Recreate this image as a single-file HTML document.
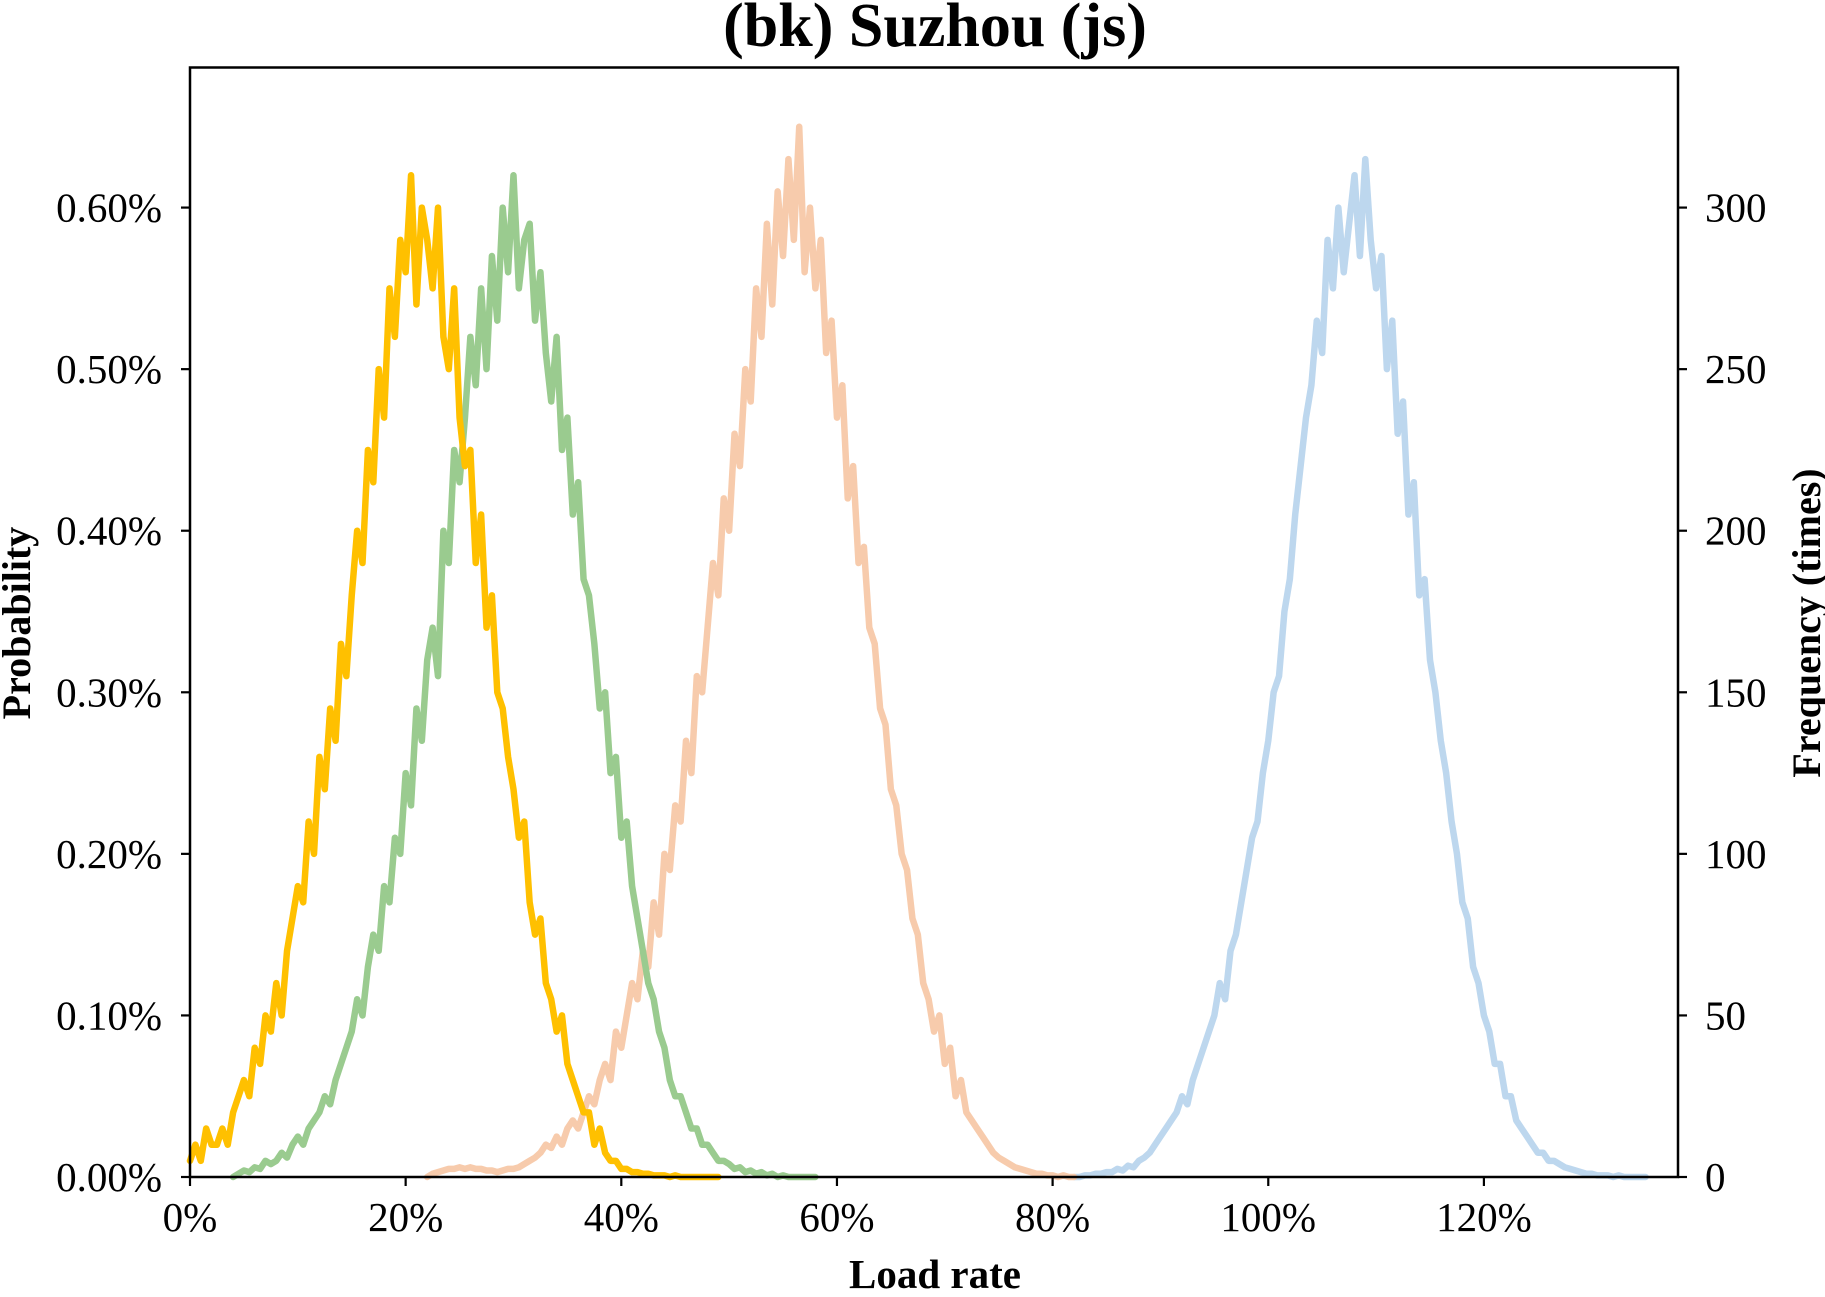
<!DOCTYPE html>
<html><head><meta charset="utf-8">
<style>
html,body{margin:0;padding:0;background:#fff;}
svg{display:block;font-family:"Liberation Serif",serif;}
</style></head>
<body>
<svg id="chart" width="1825" height="1297" viewBox="0 0 1825 1297" xmlns="http://www.w3.org/2000/svg">
<text x="935" y="46" text-anchor="middle" font-size="62" font-weight="bold">(bk) Suzhou (js)</text>
<g id="series"></g>
<g id="axes"></g>
<text x="935" y="1288" text-anchor="middle" font-size="41" font-weight="bold">Load rate</text>
<text transform="translate(30,623) rotate(-90)" text-anchor="middle" font-size="40" font-weight="bold">Probability</text>
<text transform="translate(1820,623) rotate(-90)" text-anchor="middle" font-size="40" font-weight="bold">Frequency (times)</text>
</svg>
<script>
const xTicks = [0, 20, 40, 60, 80, 100, 120];
const xTickLabels = ["0%", "20%", "40%", "60%", "80%", "100%", "120%"];
const yTicks = [0, 0.1, 0.2, 0.3, 0.4, 0.5, 0.6];
const yTickLabels = ["0.00%", "0.10%", "0.20%", "0.30%", "0.40%", "0.50%", "0.60%"];
const rightTickLabels = ["0", "50", "100", "150", "200", "250", "300"];
const step = 0.5;
const yellowStart = 0;
const yellowValues = [.01,.02,.01,.03,.02,.02,.03,.02, .04,.05,.06,.05,.08,.07,.10,.09, .12,.10,.14,.16,.18,.17,.22,.20, .26,.24,.29,.27,.33,.31,.36,.40, .38,.45,.43,.50,.47,.55,.52,.58, .56,.62,.54,.60,.58,.55,.60,.52, .50,.55,.47,.44,.45,.38,.41,.34, .36,.30,.29,.26,.24,.21,.22,.17, .15,.16,.12,.11,.09,.10,.07,.06, .05,.04,.04,.02,.03,.015,.01,.01, .005,.005,.003,.003,.002,.002,.001,.001, .001,0,.001,0,0,0,0,0,0,0,0];
const greenStart = 4;
const greenValues = [0,.002,.004,.003,.006,.005,.01,.008, .01,.015,.012,.02,.025,.02,.03,.035, .04,.05,.045,.06,.07,.08,.09,.11, .10,.13,.15,.14,.18,.17,.21,.20, .25,.23,.29,.27,.32,.34,.31,.40, .38,.45,.43,.47,.52,.49,.55,.50, .57,.53,.60,.56,.62,.55,.58,.59, .53,.56,.51,.48,.52,.45,.47,.41, .43,.37,.36,.33,.29,.30,.25,.26, .21,.22,.18,.16,.14,.12,.11,.09, .08,.06,.05,.05,.04,.03,.03,.02, .02,.015,.01,.01,.008,.005,.006,.003, .004,.002,.003,.001,.002,0,.001,0, 0,0,0,0,0];
const orangeStart = 22;
const orangeValues = [0,.002,.003,.004,.005,.005,.006,.005, .006,.005,.005,.004,.004,.003,.004,.005, .005,.006,.008,.01,.012,.015,.02,.018, .025,.02,.03,.035,.03,.04,.05,.045, .06,.07,.06,.09,.08,.10,.12,.11, .14,.13,.17,.15,.20,.19,.23,.22, .27,.25,.31,.30,.34,.38,.36,.42, .40,.46,.44,.50,.48,.55,.52,.59, .54,.61,.57,.63,.58,.65,.56,.60, .55,.58,.51,.53,.47,.49,.42,.44, .38,.39,.34,.33,.29,.28,.24,.23, .20,.19,.16,.15,.12,.11,.09,.10, .07,.08,.05,.06,.04,.035,.03,.025, .02,.015,.012,.01,.008,.006,.005,.004, .003,.002,.002,.001,.001,0,.001,0,0];
const blueStart = 82;
const blueValues = [0,0,.001,.001,.002,.002,.003,.003, .005,.004,.007,.006,.01,.012,.015,.02, .025,.03,.035,.04,.05,.045,.06,.07, .08,.09,.10,.12,.11,.14,.15,.17, .19,.21,.22,.25,.27,.30,.31,.35, .37,.41,.44,.47,.49,.53,.51,.58, .55,.60,.56,.59,.62,.57,.63,.58, .55,.57,.50,.53,.46,.48,.41,.43, .36,.37,.32,.30,.27,.25,.22,.20, .17,.16,.13,.12,.10,.09,.07,.07, .05,.05,.035,.03,.025,.02,.015,.015, .01,.01,.008,.006,.005,.004,.003,.002, .002,.001,.001,.001,0,.001,0,0,0,0,0];

const L = 190, R = 1678, T = 67.5, B = 1177;
const xMin = 0, xMax = 138, yMin = 0, yMax = 0.6867;
const xs = v => L + (v - xMin) / (xMax - xMin) * (R - L);
const ys = v => B - (v - yMin) / (yMax - yMin) * (B - T);
const NS = "http://www.w3.org/2000/svg";
const sg = document.getElementById('series');
const ag = document.getElementById('axes');

function drawSeries(start, vals, color, name) {
  let d = '';
  vals.forEach((v, i) => { d += (i ? 'L' : 'M') + xs(start + i * step).toFixed(2) + ',' + ys(v).toFixed(2); });
  const p = document.createElementNS(NS, 'path');
  p.setAttribute('d', d);
  p.setAttribute('fill', 'none');
  p.setAttribute('stroke', color);
  p.setAttribute('stroke-width', '6.5');
  p.setAttribute('stroke-linejoin', 'round');
  p.setAttribute('stroke-linecap', 'round');
  
  
  sg.appendChild(p);
}
drawSeries(blueStart, blueValues, '#BDD7EE', 'blue-series-line');
drawSeries(orangeStart, orangeValues, '#F7CBAC', 'orange-series-line');
drawSeries(greenStart, greenValues, '#9ACB8F', 'green-series-line');
drawSeries(yellowStart, yellowValues, '#FFC000', 'yellow-series-line');

const frame = document.createElementNS(NS, 'rect');
frame.setAttribute('x', L); frame.setAttribute('y', T);
frame.setAttribute('width', R - L); frame.setAttribute('height', B - T);
frame.setAttribute('fill', 'none'); frame.setAttribute('stroke', '#000'); frame.setAttribute('stroke-width', '2.5');


ag.appendChild(frame);

function line(x1, y1, x2, y2, name) {
  const l = document.createElementNS(NS, 'line');
  l.setAttribute('x1', x1); l.setAttribute('y1', y1); l.setAttribute('x2', x2); l.setAttribute('y2', y2);
  l.setAttribute('stroke', '#000'); l.setAttribute('stroke-width', '2.2');
  
  
  ag.appendChild(l);
}
function text(x, y, s, anchor, name) {
  const t = document.createElementNS(NS, 'text');
  t.setAttribute('x', x); t.setAttribute('y', y); t.setAttribute('text-anchor', anchor);
  t.setAttribute('font-size', '41');
  t.textContent = s;
  
  
  ag.appendChild(t);
}
xTicks.forEach((v, i) => {
  const x = xs(v);
  line(x, B, x, B + 9, 'x-tick');
  text(x, B + 54, xTickLabels[i], 'middle', 'x-tick-label');
});
yTicks.forEach((v, i) => {
  const y = ys(v);
  line(L - 9, y, L, y, 'y-tick');
  text(L - 28, y + 14, yTickLabels[i], 'end', 'y-tick-label');
  line(R, y, R + 9, y, 'right-y-tick');
  text(R + 27, y + 14, rightTickLabels[i], 'start', 'right-y-tick-label');
});
</script>
</body></html>
